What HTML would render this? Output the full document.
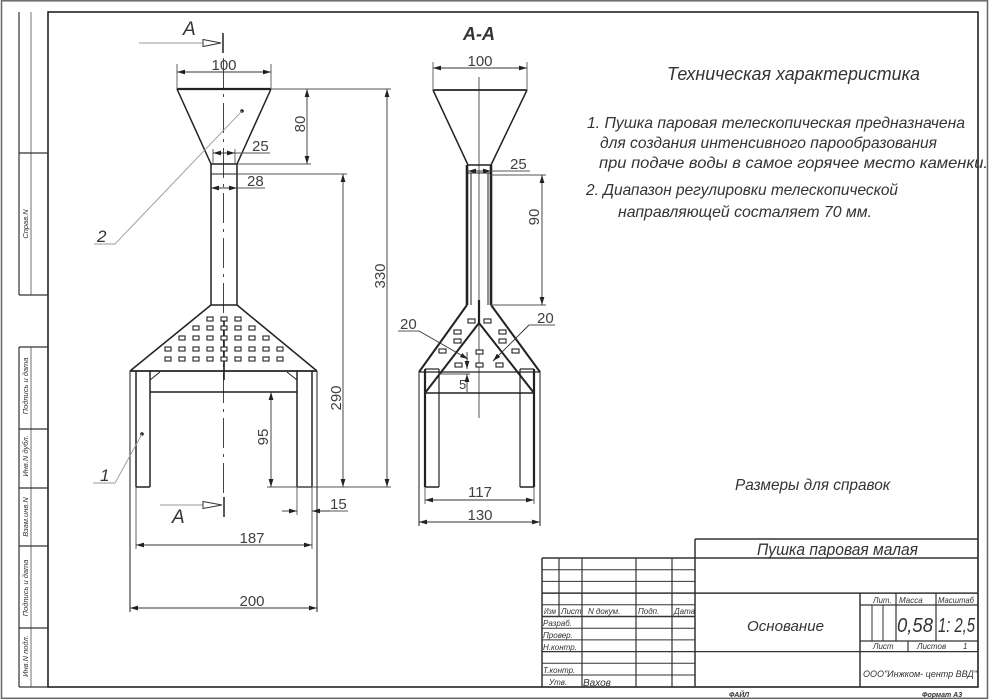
<!DOCTYPE html>
<html><head><meta charset="utf-8"><style>
html,body{margin:0;padding:0;background:#fff;}
svg{display:block;}
text{font-family:"Liberation Sans","DejaVu Sans",sans-serif;}
.d{font-size:15px;fill:#404040;}
.i{font-style:italic;fill:#333;}
</style></head><body>
<svg width="990" height="700" viewBox="0 0 990 700" xmlns="http://www.w3.org/2000/svg">
<defs>
<marker id="ar" viewBox="0 0 8 6" refX="8" refY="3" markerWidth="8" markerHeight="6" markerUnits="userSpaceOnUse" orient="auto-start-reverse"><path d="M0,0.6 L8,3 L0,5.4z" fill="#222"/></marker>
</defs>
<rect width="990" height="700" fill="#fff"/>
<!-- outer border + main frame -->
<rect x="1.5" y="0.8" width="986" height="697.5" fill="none" stroke="#666" stroke-width="1.5"/>
<rect x="48" y="12" width="930" height="675" fill="none" stroke="#222" stroke-width="1.6"/>

<!-- left strip -->
<g stroke="#333" stroke-width="1.2" fill="none">
<line x1="19" y1="12" x2="19" y2="295"/>
<line x1="31" y1="12" x2="31" y2="295" stroke="#888"/>
<line x1="19" y1="153" x2="48" y2="153"/>
<line x1="19" y1="295" x2="48" y2="295"/>
<line x1="19" y1="347" x2="19" y2="687"/>
<line x1="31" y1="347" x2="31" y2="687" stroke="#888"/>
<line x1="19" y1="347" x2="48" y2="347"/>
<line x1="19" y1="429" x2="48" y2="429"/>
<line x1="19" y1="488" x2="48" y2="488"/>
<line x1="19" y1="546" x2="48" y2="546"/>
<line x1="19" y1="628" x2="48" y2="628"/>
<line x1="19" y1="687" x2="48" y2="687"/>
</g>
<g class="i" font-size="7.5" text-anchor="middle">
<text transform="translate(28,224) rotate(-90)">Справ.N</text>
<text transform="translate(28,386) rotate(-90)">Подпись  и  дата</text>
<text transform="translate(28,456) rotate(-90)">Инв.N  дубл.</text>
<text transform="translate(28,517) rotate(-90)">Взам.инв.N</text>
<text transform="translate(28,588) rotate(-90)">Подпись  и  дата</text>
<text transform="translate(28,656) rotate(-90)">Инв.N   подл.</text>
</g>

<!-- ===== LEFT VIEW ===== -->
<!-- section mark top -->
<line x1="139" y1="43" x2="203" y2="43" stroke="#999" stroke-width="1"/>
<polygon points="203,39.5 203,46.5 221,43" fill="#fff" stroke="#333" stroke-width="1"/>
<line x1="223" y1="33" x2="223" y2="53" stroke="#222" stroke-width="1.5"/>
<text x="183" y="35" class="i" font-size="19">A</text>
<!-- section mark bottom -->
<line x1="160" y1="505" x2="203" y2="505" stroke="#999" stroke-width="1"/>
<polygon points="203,501.5 203,508.5 222,505" fill="#fff" stroke="#333" stroke-width="1"/>
<line x1="224" y1="497" x2="224" y2="517" stroke="#222" stroke-width="1.5"/>
<text x="172" y="523" class="i" font-size="19">A</text>
<!-- centre line -->
<line x1="223.5" y1="58" x2="223.5" y2="495" stroke="#444" stroke-width="1" stroke-dasharray="30 6 3 6"/>
<line x1="224" y1="318" x2="224" y2="380" stroke="#222" stroke-width="1.6"/>

<g stroke="#222" stroke-width="1.5" fill="none">
<line x1="177" y1="89" x2="271" y2="89" stroke-width="2.2"/>
<line x1="177" y1="89" x2="211" y2="164"/>
<line x1="271" y1="89" x2="237" y2="164"/>
<line x1="211" y1="164" x2="237" y2="164"/>
<line x1="211" y1="164" x2="211" y2="305"/>
<line x1="237" y1="164" x2="237" y2="305"/>
<line x1="211" y1="174" x2="237" y2="174" stroke-width="1"/>
<line x1="211" y1="305" x2="237" y2="305"/>
<line x1="211" y1="305" x2="130" y2="371"/>
<line x1="237" y1="305" x2="317" y2="371"/>
<line x1="130" y1="371" x2="317" y2="371" stroke-width="1.8"/>
<!-- legs -->
<line x1="136" y1="371" x2="136" y2="487"/>
<line x1="150" y1="371" x2="150" y2="487"/>
<line x1="136" y1="487" x2="150" y2="487"/>
<line x1="297" y1="371" x2="297" y2="487"/>
<line x1="312" y1="371" x2="312" y2="487"/>
<line x1="297" y1="487" x2="312" y2="487"/>
<line x1="150" y1="392" x2="297" y2="392"/>
<line x1="150" y1="380" x2="160" y2="372" stroke-width="1"/>
<line x1="297" y1="380" x2="287" y2="372" stroke-width="1"/>
</g>
<!-- holes left view -->
<g fill="#fff" stroke="#222" stroke-width="1.1">
<rect x="207" y="317" width="6" height="4"/><rect x="221" y="317" width="6" height="4"/><rect x="235" y="317" width="6" height="4"/>
<rect x="193" y="326" width="6" height="4"/><rect x="207" y="326" width="6" height="4"/><rect x="221" y="326" width="6" height="4"/><rect x="235" y="326" width="6" height="4"/><rect x="249" y="326" width="6" height="4"/>
<rect x="179" y="336" width="6" height="4"/><rect x="193" y="336" width="6" height="4"/><rect x="207" y="336" width="6" height="4"/><rect x="221" y="336" width="6" height="4"/><rect x="235" y="336" width="6" height="4"/><rect x="249" y="336" width="6" height="4"/><rect x="263" y="336" width="6" height="4"/>
<rect x="165" y="347" width="6" height="4"/><rect x="179" y="347" width="6" height="4"/><rect x="193" y="347" width="6" height="4"/><rect x="207" y="347" width="6" height="4"/><rect x="221" y="347" width="6" height="4"/><rect x="235" y="347" width="6" height="4"/><rect x="249" y="347" width="6" height="4"/><rect x="263" y="347" width="6" height="4"/><rect x="277" y="347" width="6" height="4"/>
<rect x="165" y="357" width="6" height="4"/><rect x="179" y="357" width="6" height="4"/><rect x="193" y="357" width="6" height="4"/><rect x="207" y="357" width="6" height="4"/><rect x="221" y="357" width="6" height="4"/><rect x="235" y="357" width="6" height="4"/><rect x="249" y="357" width="6" height="4"/><rect x="263" y="357" width="6" height="4"/><rect x="277" y="357" width="6" height="4"/>
</g>
<!-- extension lines -->
<g stroke="#555" stroke-width="0.9">
<line x1="177" y1="64" x2="177" y2="89"/>
<line x1="271" y1="64" x2="271" y2="89"/>
<line x1="213" y1="149" x2="213" y2="164"/>
<line x1="235" y1="149" x2="235" y2="164"/>
<line x1="271" y1="89" x2="391" y2="89"/>
<line x1="237" y1="164" x2="311" y2="164"/>
<line x1="237" y1="174" x2="347" y2="174"/>
<line x1="267" y1="487" x2="391" y2="487"/>
<line x1="130" y1="371" x2="130" y2="612" stroke="#333" stroke-width="1.1"/>
<line x1="317" y1="371" x2="317" y2="612" stroke="#333" stroke-width="1.1"/>
<line x1="136" y1="487" x2="136" y2="549"/>
<line x1="312" y1="487" x2="312" y2="549"/>
<line x1="297" y1="487" x2="297" y2="515"/>
<line x1="235" y1="153" x2="270" y2="153"/>
<line x1="237" y1="188" x2="265" y2="188"/>
<line x1="312" y1="511" x2="348" y2="511"/>
</g>
<!-- dimension lines -->
<g stroke="#333" stroke-width="0.9" marker-start="url(#ar)" marker-end="url(#ar)">
<line x1="177" y1="72" x2="271" y2="72"/>
<line x1="213" y1="153" x2="235" y2="153"/>
<line x1="211" y1="188" x2="237" y2="188"/>
<line x1="307" y1="89" x2="307" y2="164"/>
<line x1="387" y1="89" x2="387" y2="487"/>
<line x1="343" y1="174" x2="343" y2="487"/>
<line x1="271" y1="392" x2="271" y2="487"/>
<line x1="136" y1="545" x2="312" y2="545"/>
<line x1="130" y1="608" x2="317" y2="608"/>
</g>
<g stroke="#333" stroke-width="0.9" marker-end="url(#ar)">
<line x1="282" y1="511" x2="297" y2="511"/>
<line x1="330" y1="511" x2="312" y2="511"/>
</g>
<g class="d">
<text x="224" y="70" text-anchor="middle">100</text>
<text x="252" y="151">25</text>
<text x="247" y="186">28</text>
<text transform="translate(305,124) rotate(-90)" text-anchor="middle">80</text>
<text transform="translate(385,276) rotate(-90)" text-anchor="middle">330</text>
<text transform="translate(341,398) rotate(-90)" text-anchor="middle">290</text>
<text transform="translate(268,437) rotate(-90)" text-anchor="middle">95</text>
<text x="330" y="509">15</text>
<text x="252" y="543" text-anchor="middle">187</text>
<text x="252" y="606" text-anchor="middle">200</text>
</g>
<!-- leaders -->
<circle cx="242" cy="111" r="1.8" fill="#222"/>
<polyline points="242,111 115,244 94,244" fill="none" stroke="#999" stroke-width="0.9"/>
<text x="97" y="242" class="i" font-size="17">2</text>
<circle cx="142" cy="434" r="1.8" fill="#222"/>
<polyline points="142,434 115,483 93,483" fill="none" stroke="#999" stroke-width="0.9"/>
<text x="100" y="481" class="i" font-size="17">1</text>

<!-- ===== RIGHT VIEW A-A ===== -->
<text x="463" y="40" class="i" font-size="18" font-weight="bold" fill="#222">A-A</text>
<line x1="479" y1="77" x2="479" y2="418" stroke="#444" stroke-width="0.9"/>
<g stroke="#222" stroke-width="1.5" fill="none">
<line x1="433" y1="90" x2="527" y2="90" stroke-width="1.7"/>
<line x1="433" y1="90" x2="468" y2="165"/>
<line x1="527" y1="90" x2="491" y2="165"/>
<line x1="468" y1="165" x2="491" y2="165"/>
<line x1="468" y1="173" x2="491" y2="173" stroke-width="0.9"/>
<line x1="467" y1="165" x2="467" y2="305" stroke-width="2.6"/>
<line x1="491" y1="165" x2="491" y2="305" stroke-width="2.6"/>
<line x1="471" y1="173" x2="471" y2="305" stroke-width="1"/>
<line x1="488" y1="173" x2="488" y2="305" stroke-width="1"/>
<line x1="479" y1="300" x2="479" y2="323" stroke-width="2.2"/>
<line x1="467" y1="305" x2="419" y2="372" stroke-width="2"/>
<line x1="491" y1="305" x2="540" y2="372" stroke-width="2"/>
<line x1="479" y1="323" x2="425" y2="393" stroke-width="2"/>
<line x1="479" y1="323" x2="534" y2="393" stroke-width="2"/>
<line x1="419" y1="372" x2="540" y2="372" stroke-width="1.2"/>
<line x1="425" y1="393" x2="534" y2="393"/>
<line x1="425" y1="369" x2="425" y2="487" stroke-width="2.2"/>
<line x1="439" y1="369" x2="439" y2="487" stroke-width="1.2"/>
<line x1="425" y1="369" x2="439" y2="369" stroke-width="1.2"/>
<line x1="425" y1="487" x2="439" y2="487"/>
<line x1="520" y1="369" x2="520" y2="487" stroke-width="1.2"/>
<line x1="534" y1="369" x2="534" y2="487" stroke-width="2.2"/>
<line x1="520" y1="369" x2="534" y2="369" stroke-width="1.2"/>
<line x1="520" y1="487" x2="534" y2="487"/>
</g>
<g fill="#fff" stroke="#222" stroke-width="1.1">
<rect x="468" y="319" width="7" height="4"/><rect x="484" y="319" width="7" height="4"/>
<rect x="454" y="330" width="7" height="4"/><rect x="499" y="330" width="7" height="4"/>
<rect x="454" y="339" width="7" height="4"/><rect x="499" y="339" width="7" height="4"/>
<rect x="439" y="349" width="7" height="4"/><rect x="476" y="350" width="7" height="4"/><rect x="512" y="349" width="7" height="4"/>
<rect x="455" y="363" width="7" height="4"/><rect x="476" y="363" width="7" height="4"/><rect x="496" y="363" width="7" height="4"/>
</g>
<g stroke="#555" stroke-width="0.9">
<line x1="433" y1="62" x2="433" y2="90"/>
<line x1="527" y1="62" x2="527" y2="90"/>
<line x1="491" y1="171" x2="530" y2="171"/>
<line x1="491" y1="175" x2="546" y2="175"/>
<line x1="491" y1="305" x2="546" y2="305"/>
<line x1="419" y1="372" x2="419" y2="526" stroke="#333" stroke-width="1.1"/>
<line x1="540" y1="372" x2="540" y2="526" stroke="#333" stroke-width="1.1"/>
<line x1="425" y1="487" x2="425" y2="504"/>
<line x1="534" y1="487" x2="534" y2="504"/>
<line x1="398" y1="331" x2="419" y2="331"/>
<line x1="529" y1="325" x2="555" y2="325"/>
<line x1="438" y1="374" x2="470" y2="374"/>
</g>
<g stroke="#333" stroke-width="0.9" marker-start="url(#ar)" marker-end="url(#ar)">
<line x1="433" y1="68" x2="527" y2="68"/>
<line x1="468" y1="171" x2="491" y2="171"/>
<line x1="542" y1="175" x2="542" y2="305"/>
<line x1="425" y1="500" x2="534" y2="500"/>
<line x1="419" y1="522" x2="540" y2="522"/>
</g>
<g stroke="#333" stroke-width="0.9" marker-end="url(#ar)">
<line x1="419" y1="331" x2="468" y2="359"/>
<line x1="529" y1="325" x2="493" y2="361"/>
<line x1="467" y1="352" x2="467" y2="369"/>
<line x1="467" y1="392" x2="467" y2="374"/>
</g>
<g class="d">
<text x="480" y="66" text-anchor="middle">100</text>
<text x="510" y="169">25</text>
<text transform="translate(539,217) rotate(-90)" text-anchor="middle">90</text>
<text x="480" y="497" text-anchor="middle">117</text>
<text x="480" y="520" text-anchor="middle">130</text>
<text x="400" y="329">20</text>
<text x="537" y="323">20</text>
<text x="459" y="389" font-size="13">5</text>
</g>

<!-- ===== NOTES ===== -->
<g class="i" fill="#3a3a3a">
<text x="667" y="80" font-size="18" textLength="253" lengthAdjust="spacingAndGlyphs">Техническая характеристика</text>
<text x="587" y="128" font-size="16" textLength="378" lengthAdjust="spacingAndGlyphs">1. Пушка паровая телескопическая предназначена</text>
<text x="600" y="148" font-size="16" textLength="337" lengthAdjust="spacingAndGlyphs">для создания интенсивного парообразования</text>
<text x="599" y="168" font-size="16" textLength="389" lengthAdjust="spacingAndGlyphs">при подаче воды в самое горячее место каменки.</text>
<text x="586" y="195" font-size="16" textLength="312" lengthAdjust="spacingAndGlyphs">2. Диапазон регулировки телескопической</text>
<text x="618" y="217" font-size="16" textLength="254" lengthAdjust="spacingAndGlyphs">направляющей состаляет 70 мм.</text>
<text x="735" y="490" font-size="16" textLength="155" lengthAdjust="spacingAndGlyphs">Размеры для справок</text>
</g>

<!-- ===== TITLE BLOCK ===== -->
<g stroke="#333" stroke-width="1.2" fill="none">
<line x1="695" y1="539" x2="978" y2="539" stroke-width="1.5"/>
<line x1="695" y1="539" x2="695" y2="687" stroke-width="1.5"/>
<line x1="542" y1="558" x2="978" y2="558" stroke-width="1.5"/>
<line x1="542" y1="558" x2="542" y2="687" stroke-width="1.5"/>
<line x1="559" y1="558" x2="559" y2="616.5"/>
<line x1="582" y1="558" x2="582" y2="687"/>
<line x1="636" y1="558" x2="636" y2="687"/>
<line x1="672" y1="558" x2="672" y2="687"/>
<line x1="542" y1="569.7" x2="695" y2="569.7" stroke-width="1"/>
<line x1="542" y1="581.4" x2="695" y2="581.4" stroke-width="1"/>
<line x1="542" y1="593.1" x2="978" y2="593.1" stroke-width="1.5"/>
<line x1="542" y1="604.8" x2="695" y2="604.8" stroke-width="1"/>
<line x1="542" y1="616.5" x2="695" y2="616.5" stroke-width="1.5"/>
<line x1="542" y1="628.2" x2="695" y2="628.2" stroke-width="1"/>
<line x1="542" y1="639.9" x2="695" y2="639.9" stroke-width="1"/>
<line x1="542" y1="651.6" x2="978" y2="651.6" stroke-width="1.3"/>
<line x1="542" y1="663.3" x2="695" y2="663.3" stroke-width="1"/>
<line x1="542" y1="675" x2="695" y2="675" stroke-width="1"/>
<line x1="860" y1="593" x2="860" y2="687" stroke-width="1.5"/>
<line x1="860" y1="605" x2="978" y2="605"/>
<line x1="860" y1="641" x2="978" y2="641"/>
<line x1="896" y1="593" x2="896" y2="641"/>
<line x1="936" y1="593" x2="936" y2="641"/>
<line x1="872" y1="605" x2="872" y2="641" stroke-width="1"/>
<line x1="883" y1="605" x2="883" y2="641" stroke-width="1"/>
<line x1="908" y1="641" x2="908" y2="652"/>
</g>
<g class="i" fill="#333">
<text x="757" y="555" font-size="17" textLength="161" lengthAdjust="spacingAndGlyphs">Пушка паровая малая</text>
<text x="747" y="631" font-size="15" textLength="77" lengthAdjust="spacingAndGlyphs">Основание</text>
<text x="897" y="632" font-size="20" font-style="italic" textLength="36" lengthAdjust="spacingAndGlyphs">0,58</text>
<text x="938" y="632" font-size="20" textLength="37" lengthAdjust="spacingAndGlyphs">1: 2,5</text>
<g font-size="8">
<text x="873" y="603">Лит.</text>
<text x="899" y="603">Масса</text>
<text x="938" y="603" textLength="36" lengthAdjust="spacingAndGlyphs">Масштаб</text>
<text x="873" y="649">Лист</text>
<text x="917" y="649">Листов</text>
<text x="963" y="649">1</text>
<text x="544" y="614" textLength="12" lengthAdjust="spacingAndGlyphs">Изм</text>
<text x="561" y="614">Лист</text>
<text x="588" y="614">N  докум.</text>
<text x="638" y="614">Подп.</text>
<text x="674" y="614">Дата</text>
<text x="543" y="626">Разраб.</text>
<text x="543" y="638">Провер.</text>
<text x="543" y="650">Н.контр.</text>
<text x="543" y="673">Т.контр.</text>
<text x="549" y="685">Утв.</text>
<text x="583" y="686" font-size="10">Вахов</text>
</g>
<text x="863" y="677" font-size="9.5" textLength="114" lengthAdjust="spacingAndGlyphs">ООО"Инжком- центр ВВД"</text>
</g>
<text x="729" y="697" font-size="7" font-weight="bold" class="i">ФАЙЛ</text>
<text x="922" y="697" font-size="7" font-weight="bold" class="i">Формат А3</text>
</svg>
</body></html>
